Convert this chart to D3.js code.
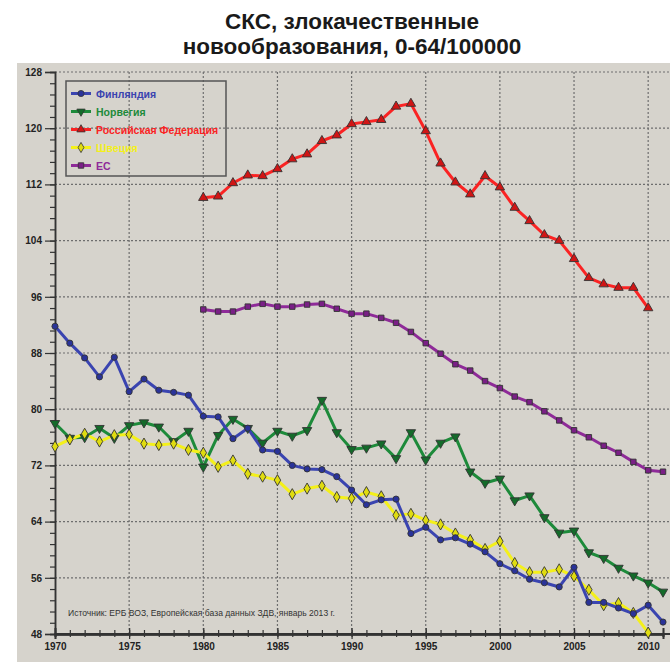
<!DOCTYPE html>
<html><head><meta charset="utf-8">
<script src="https://cdn.jsdelivr.net/npm/d3@7"></script>
<style>
html,body{margin:0;padding:0;background:#fff;}
svg{display:block;}
</style></head>
<body>
<svg id="chart" width="670" height="662"></svg>
<script>
const years = d3.range(1970, 2012);
const finland = [91.8,89.4,87.3,84.6,87.4,82.5,84.3,82.7,82.4,82.0,79.0,78.9,75.8,77.3,74.2,74.0,72.0,71.5,71.4,70.4,68.5,66.4,67.1,67.2,62.3,63.2,61.4,61.7,60.8,59.7,58.0,57.0,55.8,55.3,54.7,57.5,52.5,52.5,51.7,50.9,52.1,49.7];
const norway = [78.0,75.9,76.0,77.3,75.9,77.7,78.1,77.5,75.4,76.9,71.8,76.3,78.6,77.3,75.2,76.9,76.2,77.0,81.3,76.7,74.3,74.5,75.1,73.0,76.7,72.8,75.2,76.1,71.1,69.5,70.1,67.0,67.7,64.6,62.4,62.7,59.6,58.8,57.4,56.3,55.3,54.0];
const russia = [null,null,null,null,null,null,null,null,null,null,110.1,110.3,112.2,113.3,113.2,114.2,115.6,116.3,118.2,119.0,120.6,120.9,121.2,123.1,123.5,119.6,115.0,112.3,110.6,113.2,111.6,108.7,106.8,104.8,104.0,101.4,98.7,97.8,97.3,97.3,94.4,null];
const sweden = [74.7,75.7,76.5,75.4,76.3,76.4,75.1,74.9,75.1,74.2,73.8,71.8,72.7,70.8,70.4,69.9,67.9,68.7,69.1,67.5,67.3,68.2,67.6,64.9,65.1,64.2,63.6,62.3,61.4,60.1,61.2,58.1,56.8,56.8,57.2,56.2,54.3,52.1,52.4,51.0,48.2,null];
const eu = [null,null,null,null,null,null,null,null,null,null,94.2,93.9,93.9,94.6,95.0,94.6,94.6,94.9,95.0,94.3,93.6,93.6,93.0,92.3,91.0,89.4,87.9,86.4,85.5,84.0,83.0,81.8,81.0,79.7,78.4,77.0,76.0,74.8,73.8,72.5,71.3,71.1];
const seriesNames = ["Финляндия","Норвегия","Российская Федерация","Швеция","ЕС"];
const yTicks = [48,56,64,72,80,88,96,104,112,120,128];
const xTicks = [1970,1975,1980,1985,1990,1995,2000,2005,2010];
const titleLines = ["СКС, злокачественные","новообразования, 0-64/100000"];
const sourceNote = "Источник: ЕРБ ВОЗ, Европейская база данных ЗДВ, январь 2013 г.";

const series = [
  {name: seriesNames[0], values: finland, color:"#3a44b0", fill:"#2a3399", shape: d3.symbolCircle},
  {name: seriesNames[1], values: norway, color:"#1d8a3a", fill:"#146b2a", shape: d3.symbolTriangle, rot:180},
  {name: seriesNames[2], values: russia, color:"#fa2323", fill:"#d01515", shape: d3.symbolTriangle},
  {name: seriesNames[3], values: sweden, color:"#f4f01a", fill:"#e0dc10", shape: d3.symbolDiamond},
  {name: seriesNames[4], values: eu, color:"#8e2a98", fill:"#7a1f86", shape: d3.symbolSquare}
];

const svg = d3.select("#chart");
const font = "'Liberation Sans', Arial, sans-serif";

// panel
svg.append("rect").attr("x",17).attr("y",63).attr("width",653).attr("height",599).attr("fill","#d6d3cc");

// title
svg.append("g").selectAll("text").data(titleLines).join("text")
  .attr("x",352).attr("y",(d,i)=>29+i*25).attr("text-anchor","middle")
  .attr("font-family",font).attr("font-weight","bold").attr("font-size",22.5).attr("fill","#1a1a1a")
  .text(d=>d);

const x = d3.scaleLinear().domain([1970,2011]).range([55,663]);
const y = d3.scaleLinear().domain([48,128]).range([634,72]);

// grid
const grid = svg.append("g").attr("stroke","#6e6e6e").attr("stroke-width",1.2).attr("stroke-dasharray","2,2");
grid.selectAll("line.h").data(yTicks.filter(v=>v>48)).join("line").attr("class","h")
  .attr("x1",x(1970)).attr("x2",670).attr("y1",d=>y(d)).attr("y2",d=>y(d));
grid.selectAll("line.v").data(xTicks.filter(v=>v>1970)).join("line").attr("class","v")
  .attr("y1",y(128)).attr("y2",y(48)).attr("x1",d=>x(d)).attr("x2",d=>x(d));

// y axis
const yMinor = d3.range(48,128.01,1.6);
const gyMinor = svg.append("g").attr("transform",`translate(${x(1970)},0)`)
  .call(d3.axisLeft(y).tickValues(yMinor).tickSize(5).tickFormat(""));
const gy = svg.append("g").attr("transform",`translate(${x(1970)},0)`)
  .call(d3.axisLeft(y).tickValues(yTicks).tickSize(10).tickPadding(3));
[gyMinor,gy].forEach(g=>{g.selectAll("line").attr("stroke","#333").attr("stroke-width",1.2); g.select(".domain").attr("stroke","#333").attr("stroke-width",1.5);});
gy.selectAll("text").attr("font-family",font).attr("font-weight","bold").attr("font-size",10).attr("fill","#222");

// x axis
const xMinor = d3.range(1970,2012,1);
const gxMinorUp = svg.append("g").attr("transform",`translate(0,${y(48)})`)
  .call(d3.axisTop(x).tickValues(xMinor).tickSize(4).tickFormat(""));
const gxMinorDn = svg.append("g").attr("transform",`translate(0,${y(48)})`)
  .call(d3.axisBottom(x).tickValues(xMinor).tickSize(3).tickFormat(""));
const gxUp = svg.append("g").attr("transform",`translate(0,${y(48)})`)
  .call(d3.axisTop(x).tickValues(xTicks).tickSize(6).tickFormat(""));
const gx = svg.append("g").attr("transform",`translate(0,${y(48)})`)
  .call(d3.axisBottom(x).tickValues(xTicks).tickSize(5).tickPadding(4).tickFormat(d3.format("d")));
[gxMinorUp,gxMinorDn,gxUp,gx].forEach(g=>{g.selectAll("line").attr("stroke","#333").attr("stroke-width",1.2); g.select(".domain").attr("stroke","#333").attr("stroke-width",2);});
gxMinorUp.select(".domain").attr("d",`M${x(1970)},0H670`);
gx.selectAll("text").attr("font-family",font).attr("font-weight","bold").attr("font-size",10).attr("fill","#222");

// source note
svg.append("text").attr("x",68).attr("y",616).attr("font-family",font).attr("font-size",9)
  .attr("textLength",267).attr("lengthAdjust","spacingAndGlyphs").attr("fill","#333").text(sourceNote);

// lines
const line = d3.line().defined(d=>d[1]!=null).x(d=>x(d[0])).y(d=>y(d[1]));
const order = [4,2,1,3,0];
order.forEach(i=>{
  const s = series[i];
  const pts = years.map((yr,k)=>[yr,s.values[k]]);
  svg.append("path").datum(pts).attr("d",line).attr("fill","none")
    .attr("stroke",s.color).attr("stroke-width",3).attr("stroke-linejoin","round");
});
order.forEach(i=>{
  const s = series[i];
  const pts = years.map((yr,k)=>[yr,s.values[k]]).filter(d=>d[1]!=null);
  const sym = d3.symbol().type(s.shape).size(s.shape===d3.symbolDiamond?36:(s.shape===d3.symbolTriangle?38:30));
  svg.append("g").selectAll("path").data(pts).join("path")
    .attr("d",sym)
    .attr("transform",d=>`translate(${x(d[0])},${y(d[1])})${s.rot?" rotate(180)":""}`)
    .attr("fill",s.fill).attr("stroke","#333").attr("stroke-width",0.9);
});

// legend
const lg = svg.append("g");
lg.append("rect").attr("x",66).attr("y",81).attr("width",160).attr("height",95)
  .attr("fill","none").attr("stroke","#555").attr("stroke-width",1.5);
const items = lg.selectAll("g.item").data(series).join("g").attr("class","item")
  .attr("transform",(d,i)=>`translate(0,${93.5+i*18})`);
items.append("line").attr("x1",71).attr("x2",91).attr("y1",0).attr("y2",0)
  .attr("stroke",d=>d.color).attr("stroke-width",3);
items.append("path").attr("d",d=>d3.symbol().type(d.shape).size(30)())
  .attr("transform",d=>`translate(81,0)${d.rot?" rotate(180)":""}`)
  .attr("fill",d=>d.fill).attr("stroke","#333").attr("stroke-width",0.8);
items.append("text").attr("x",96).attr("y",4).attr("font-family",font).attr("font-weight","bold")
  .attr("font-size",10.5).attr("fill",d=>d.color).text(d=>d.name);
</script>
</body></html>
